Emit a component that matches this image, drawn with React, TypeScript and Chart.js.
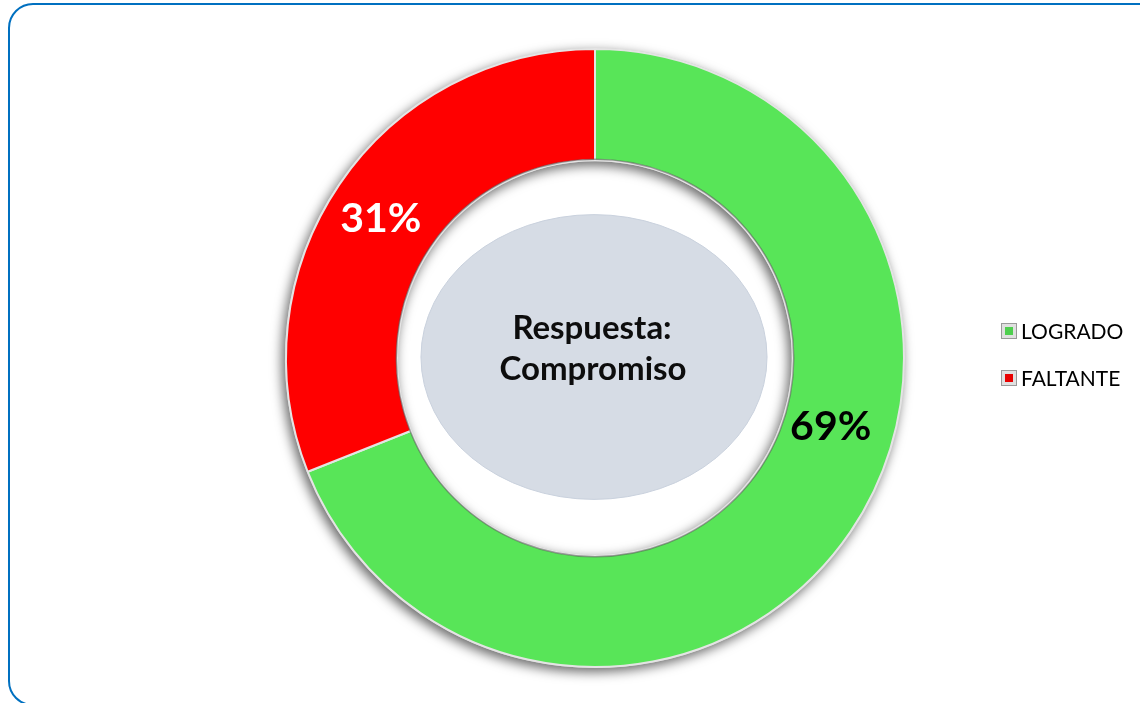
import React, { useEffect, useRef } from "react";
import { Chart, registerables } from "chart.js";

Chart.register(...registerables);

const categories = ["LOGRADO", "FALTANTE"];
const values = [69, 31];
const percentLabels = ["69%", "31%"];
const centerTitle = ["Respuesta:", "Compromiso"];
const sliceColors = ["#58E558", "#FF0000"];
const legendColors = ["#4fcf4f", "#e80000"];
const labelColors = ["#000000", "#ffffff"];
const labelAngleFrac = [0.428, 0.49];
const labelRadiusFrac = [0.43, 0.52];

export default function App() {
  const canvasRef = useRef<HTMLCanvasElement | null>(null);

  useEffect(() => {
    document.body.style.margin = "0";
    const canvas = canvasRef.current!;
    const ctxMain = canvas.getContext("2d")!;

    const decorPlugin = {
      id: "decor",
      beforeDatasetsDraw(chart: any) {
        const meta = chart.getDatasetMeta(0);
        const arc = meta.data[0];
        if (!arc) return;
        const { x, y, outerRadius, innerRadius } = arc.getProps(["x", "y", "outerRadius", "innerRadius"], true);
        const ctx = chart.ctx;
        ctx.save();
        ctx.shadowColor = "rgba(0,0,0,0.6)";
        ctx.shadowBlur = 12;
        ctx.shadowOffsetX = -3;
        ctx.shadowOffsetY = 4;
        ctx.beginPath();
        ctx.arc(x, y, outerRadius + 1, 0, Math.PI * 2);
        ctx.arc(x, y, innerRadius - 1, 0, Math.PI * 2, true);
        ctx.fillStyle = "#cfcfcf";
        ctx.fill();
        ctx.restore();
        ctx.save();
        ctx.beginPath();
        ctx.ellipse(x - 1, y - 1, innerRadius * 0.875, innerRadius * 0.72, 0, 0, Math.PI * 2);
        ctx.fillStyle = "#D6DCE5";
        ctx.fill();
        ctx.lineWidth = 1;
        ctx.strokeStyle = "#c9d1dd";
        ctx.stroke();
        ctx.restore();
      },
      afterDatasetsDraw(chart: any) {
        const meta = chart.getDatasetMeta(0);
        const ctx = chart.ctx;
        const a0 = meta.data[0];
        const { x, y, innerRadius, outerRadius } = a0.getProps(["x", "y", "innerRadius", "outerRadius"], true);
        ctx.save();
        ctx.beginPath();
        ctx.arc(x, y, innerRadius + 1, 0, Math.PI * 2);
        ctx.strokeStyle = "rgba(90,90,90,0.55)";
        ctx.lineWidth = 1.5;
        ctx.stroke();
        ctx.restore();
        meta.data.forEach((arc: any, i: number) => {
          const p = arc.getProps(["startAngle", "endAngle"], true);
          const ang = p.startAngle + labelAngleFrac[i] * (p.endAngle - p.startAngle);
          const r = innerRadius + labelRadiusFrac[i] * (outerRadius - innerRadius);
          const lx = x + Math.cos(ang) * r;
          const ly = y + Math.sin(ang) * r;
          ctx.save();
          ctx.font = "bold 41px Lato, 'Open Sans', sans-serif";
          ctx.fillStyle = labelColors[i];
          ctx.textAlign = "center";
          ctx.textBaseline = "middle";
          ctx.fillText(percentLabels[i], lx, ly);
          ctx.restore();
        });
        ctx.save();
        ctx.font = "bold 33px Lato, 'Open Sans', sans-serif";
        ctx.fillStyle = "#0d0d0d";
        ctx.textAlign = "center";
        ctx.textBaseline = "middle";
        ctx.fillText(centerTitle[0], x - 3, y - 30);
        ctx.fillText(centerTitle[1], x - 2, y + 11);
        ctx.restore();
        const lgX = 1001;
        const lgY = 331;
        const gap = 47;
        categories.forEach((c, i) => {
          const cy = lgY + i * gap;
          ctx.save();
          ctx.fillStyle = "#9a9a9a";
          ctx.fillRect(lgX, cy - 8, 16, 16);
          ctx.fillStyle = "#e0e0e0";
          ctx.fillRect(lgX + 1, cy - 7, 14, 14);
          ctx.fillStyle = legendColors[i];
          ctx.fillRect(lgX + 4, cy - 4, 8, 8);
          ctx.font = "21px Lato, 'Open Sans', sans-serif";
          ctx.fillStyle = "#000000";
          ctx.textAlign = "left";
          ctx.textBaseline = "middle";
          ctx.fillText(c, lgX + 20, cy + 1);
          ctx.restore();
        });
      },
    };

    const chart = new Chart(ctxMain, {
      type: "doughnut",
      data: {
        labels: categories,
        datasets: [
          {
            data: values,
            backgroundColor: sliceColors,
            borderColor: "#e4e4e4",
            borderWidth: 2,
          },
        ],
      },
      options: {
        responsive: false,
        animation: false,
        cutout: "64%",
        rotation: 0,
        layout: { padding: { top: 48, bottom: 35, left: 285, right: 235 } },
        plugins: {
          legend: { display: false },
          tooltip: { enabled: false },
        },
      },
      plugins: [decorPlugin],
    });
    return () => chart.destroy();
  }, []);

  return (
    <div style={{ position: "fixed", left: 0, top: 0, width: 1140, height: 703, overflow: "hidden", background: "#fff" }}>
      <div
        style={{
          position: "absolute",
          left: 8,
          top: 3,
          width: 1160,
          height: 703,
          border: "2px solid #0070C0",
          borderRadius: 25,
          boxSizing: "border-box",
        }}
      />
      <canvas ref={canvasRef} width={1140} height={703} style={{ position: "absolute", left: 0, top: 0 }} />
    </div>
  );
}
